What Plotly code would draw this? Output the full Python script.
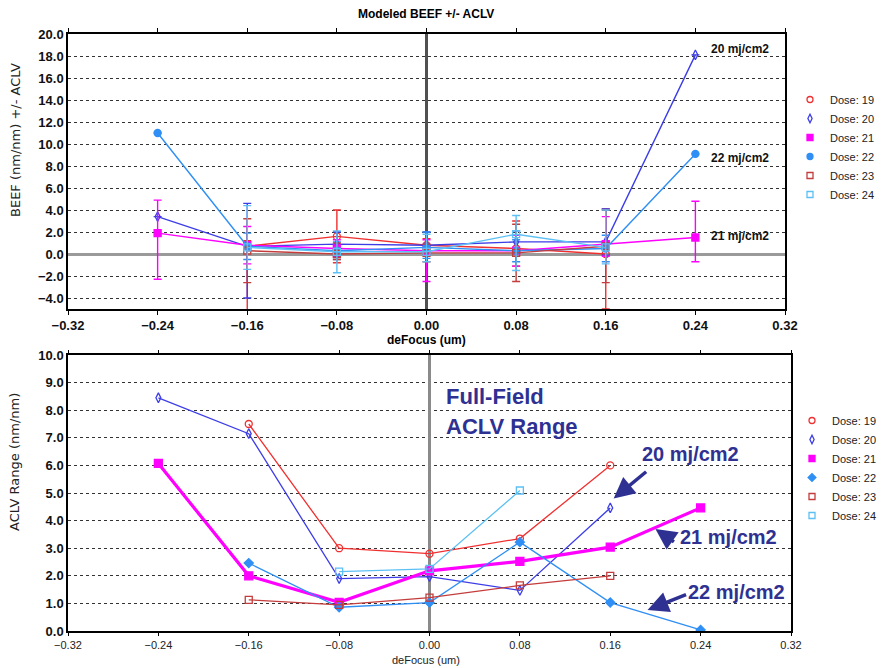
import plotly.graph_objects as go

# ---------------- data ----------------
doses = ["Dose: 19", "Dose: 20", "Dose: 21", "Dose: 22", "Dose: 23", "Dose: 24"]
x7 = [-0.24, -0.16, -0.08, 0.00, 0.08, 0.16, 0.24]
x5 = [-0.16, -0.08, 0.00, 0.08, 0.16]

# top: modeled BEEF with +/- ACLV
beef19 = [0.7, 1.6, 0.8, 0.5, 0.0]
beef19_up = [0.5, 2.4, 0.6, 2.5, 4.1]
beef19_dn = [6.0, 2.4, 0.8, 1.6, 5.0]
beef20 = [3.4, 0.7, 0.9, 0.8, 1.1, 1.1, 18.1]
beef20_up = [None, 3.9, 1.1, 1.2, 1.0, 3.0, None]
beef20_dn = [None, 4.7, 1.1, 0.6, 0.9, 1.2, None]
beef21 = [1.9, 0.8, 0.5, 0.3, 0.3, 0.9, 1.5]
beef21_up = [3.0, 1.7, 0.8, 1.0, 1.4, 2.5, 3.3]
beef21_dn = [4.2, 1.7, 0.8, 2.8, 1.4, 1.1, 2.2]
beef22 = [11.0, 0.7, 0.3, 0.6, 0.3, 0.5, 9.1]
beef22_up = [None, 1.2, 0.8, 1.4, 1.0, 1.2, None]
beef22_dn = [None, 1.2, 0.8, 1.0, 1.0, 1.2, None]
beef23 = [0.3, 0.0, 0.1, 0.1, 0.7]
beef23_up = [2.9, 1.0, 0.8, 2.6, 3.3]
beef23_dn = [2.9, 0.5, 0.8, 2.6, 3.3]
beef24 = [0.6, 0.2, 0.2, 1.8, 0.6]
beef24_up = [3.8, 1.9, 1.6, 1.7, 3.4]
beef24_dn = [2.0, 1.9, 0.9, 3.3, 1.5]

# bottom: ACLV range
x19b = [-0.16, -0.08, 0.00, 0.08, 0.16]
aclv19 = [7.5, 3.0, 2.8, 3.35, 6.0]
x20b = [-0.24, -0.16, -0.08, 0.00, 0.08, 0.16]
aclv20 = [8.45, 7.15, 1.9, 1.97, 1.47, 4.46]
x21b = [-0.24, -0.16, -0.08, 0.00, 0.08, 0.16, 0.24]
aclv21 = [6.07, 2.0, 1.04, 2.18, 2.52, 3.04, 4.46]
x22b = [-0.16, -0.08, 0.00, 0.08, 0.16, 0.24]
aclv22 = [2.46, 0.86, 1.03, 3.22, 1.03, 0.04]
x23b = [-0.16, -0.08, 0.00, 0.08, 0.16]
aclv23 = [1.13, 0.95, 1.21, 1.65, 2.0]
x24b = [-0.08, 0.00, 0.08]
aclv24 = [2.15, 2.25, 5.09]

colors = ["#f03030", "#3d3de8", "#ff00ff", "#2f8ff5", "#c43c3c", "#5cc0f5"]
sym_top = ["circle-open", "diamond-tall-open", "square", "circle", "square-open", "square-open"]
sym_bot = ["circle-open", "diamond-tall-open", "square", "diamond", "square-open", "square-open"]

FONT = "Liberation Sans"
NAVY = "#2e3192"

fig = go.Figure()

top_series = [
    (x5, beef19, beef19_up, beef19_dn),
    (x7, beef20, beef20_up, beef20_dn),
    (x7, beef21, beef21_up, beef21_dn),
    (x7, beef22, beef22_up, beef22_dn),
    (x5, beef23, beef23_up, beef23_dn),
    (x5, beef24, beef24_up, beef24_dn),
]
for i, (xs, ys, up, dn) in enumerate(top_series):
    fig.add_trace(go.Scatter(
        x=xs, y=ys, mode="lines+markers", xaxis="x", yaxis="y",
        line=dict(color=colors[i], width=1.4),
        marker=dict(symbol=sym_top[i], size=7, color=colors[i], line=dict(width=1.3, color=colors[i])),
        error_y=dict(type="data", symmetric=False, array=up, arrayminus=dn,
                     color=colors[i], thickness=1.4, width=4),
        showlegend=False, hoverinfo="x+y", name=doses[i]))

bot_series = [(x19b, aclv19), (x20b, aclv20), (x21b, aclv21),
              (x22b, aclv22), (x23b, aclv23), (x24b, aclv24)]
for i, (xs, ys) in enumerate(bot_series):
    fig.add_trace(go.Scatter(
        x=xs, y=ys, mode="lines+markers", xaxis="x2", yaxis="y2",
        line=dict(color=colors[i], width=3.2 if i == 2 else 1.3),
        marker=dict(symbol=sym_bot[i], size=8 if i == 2 else 7, color=colors[i],
                    line=dict(width=1.3, color=colors[i])),
        showlegend=False, name=doses[i]))

# legend-only entries (markers only, as in the reference)
for i, d in enumerate(doses):
    fig.add_trace(go.Scatter(x=[None], y=[None], mode="markers", xaxis="x", yaxis="y",
                             marker=dict(symbol=sym_top[i], size=6, color=colors[i],
                                         line=dict(width=1.3, color=colors[i])),
                             name=d, legend="legend"))
for i, d in enumerate(doses):
    fig.add_trace(go.Scatter(x=[None], y=[None], mode="markers", xaxis="x2", yaxis="y2",
                             marker=dict(symbol=sym_bot[i], size=6, color=colors[i],
                                         line=dict(width=1.3, color=colors[i])),
                             name=d, legend="legend2"))

xticks = [-0.32, -0.24, -0.16, -0.08, 0.0, 0.08, 0.16, 0.24, 0.32]
axis_common = dict(showline=True, mirror="ticks", linecolor="black", linewidth=1.5)

fig.update_layout(
    width=881, height=668,
    margin=dict(l=0, r=0, t=0, b=0, autoexpand=False),
    paper_bgcolor="white", plot_bgcolor="white",
    font=dict(family=FONT, size=12, color="black"),
    xaxis=dict(domain=[68/881, 785/881], anchor="y", range=[-0.32, 0.32],
               tickvals=xticks, tickformat=".2f", ticks="outside", ticklen=4,
               tickcolor="black", showgrid=False,
               zeroline=True, zerolinecolor="#505050", zerolinewidth=3,
               tickfont=dict(family=FONT, size=13, weight="bold", color="#111"),
               **axis_common),
    yaxis=dict(domain=[1-309/668, 1-34/668], anchor="x", range=[-5, 20],
               tick0=0, dtick=2, tickformat=".1f", ticks="",
               showgrid=True, gridcolor="#333", griddash="dot", gridwidth=1,
               zeroline=True, zerolinecolor="#9a9a9a", zerolinewidth=3,
               tickfont=dict(family=FONT, size=13, weight="bold", color="#111"),
               **axis_common),
    xaxis2=dict(domain=[68/881, 791/881], anchor="y2", range=[-0.32, 0.32],
                tickvals=xticks, tickformat=".2f", ticks="outside", ticklen=3,
                tickcolor="black", showgrid=False,
                zeroline=True, zerolinecolor="#8a8a8a", zerolinewidth=3,
                tickfont=dict(family=FONT, size=11, color="#222"),
                **axis_common),
    yaxis2=dict(domain=[1-631/668, 1-355/668], anchor="x2", range=[0, 10],
                dtick=1, tickformat=".1f", ticks="",
                showgrid=True, gridcolor="#333", griddash="dot", gridwidth=1,
                zeroline=False,
                tickfont=dict(family=FONT, size=13, weight="bold", color="#111"),
                **axis_common),
    legend=dict(x=790/881, y=1-85/668, xanchor="left", yanchor="top",
                font=dict(family=FONT, size=11, color="#222"),
                bgcolor="rgba(0,0,0,0)", itemwidth=30, tracegroupgap=0),
    legend2=dict(x=792/881, y=1-406/668, xanchor="left", yanchor="top",
                 font=dict(family=FONT, size=11, color="#222"),
                 bgcolor="rgba(0,0,0,0)", itemwidth=30, tracegroupgap=0),
)

ann = []
# titles and axis labels
ann.append(dict(text="<b>Modeled BEEF +/- ACLV</b>", xref="paper", yref="paper",
                x=426/881, y=1-14/668, xanchor="center", yanchor="middle",
                showarrow=False, font=dict(size=12, family=FONT)))
ann.append(dict(text="<b>deFocus (um)</b>", xref="paper", yref="paper",
                x=426/881, y=1-340/668, xanchor="center", yanchor="middle",
                showarrow=False, font=dict(size=12, family=FONT)))
ann.append(dict(text="deFocus (um)", xref="paper", yref="paper",
                x=426/881, y=1-660/668, xanchor="center", yanchor="middle",
                showarrow=False, font=dict(size=11, family=FONT, color="#222")))
ann.append(dict(text="BEEF (nm/nm) +/- ACLV", xref="paper", yref="paper", textangle=-90,
                x=15/881, y=1-140/668, xanchor="center", yanchor="middle", showarrow=False,
                font=dict(size=13, family="DejaVu Sans", color="#222")))
ann.append(dict(text="ACLV Range (nm/nm)", xref="paper", yref="paper", textangle=-90,
                x=15/881, y=1-462/668, xanchor="center", yanchor="middle", showarrow=False,
                font=dict(size=13, family="DejaVu Sans", color="#222")))
# top labels
for txt, yv in [("20 mj/cm2", 18.6), ("22 mj/cm2", 8.7), ("21 mj/cm2", 1.6)]:
    ann.append(dict(text="<b>" + txt + "</b>", xref="x", yref="y", x=0.28, y=yv,
                    showarrow=False, font=dict(size=12, family=FONT, color="#111")))
# bottom labels
ann.append(dict(text="<b>Full-Field</b>", xref="x2", yref="y2", x=0.013, y=8.5, xanchor="left",
                showarrow=False, font=dict(size=22, family=FONT, color=NAVY)))
ann.append(dict(text="<b>ACLV Range</b>", xref="x2", yref="y2", x=0.013, y=7.4, xanchor="left",
                showarrow=False, font=dict(size=22, family=FONT, color=NAVY)))
for txt, xv, yv in [("20 mj/cm2", 0.231, 6.4), ("21 mj/cm2", 0.265, 3.42), ("22 mj/cm2", 0.272, 1.42)]:
    ann.append(dict(text="<b>" + txt + "</b>", xref="x2", yref="y2", x=xv, y=yv,
                    showarrow=False, font=dict(size=20, family=FONT, color=NAVY)))
for xv, yv, axp, ayp in [(0.163, 4.8, 34, -28), (0.2, 3.7, 20, 14), (0.193, 0.76, 40, -16)]:
    ann.append(dict(text="", xref="x2", yref="y2", x=xv, y=yv, ax=axp, ay=ayp,
                    showarrow=True, arrowhead=2, arrowsize=1.2, arrowwidth=3.5, arrowcolor=NAVY))
fig.update_layout(annotations=ann)

fig.write_html("out.html", post_script="document.body.style.margin='0';",
               config={"displayModeBar": False})
